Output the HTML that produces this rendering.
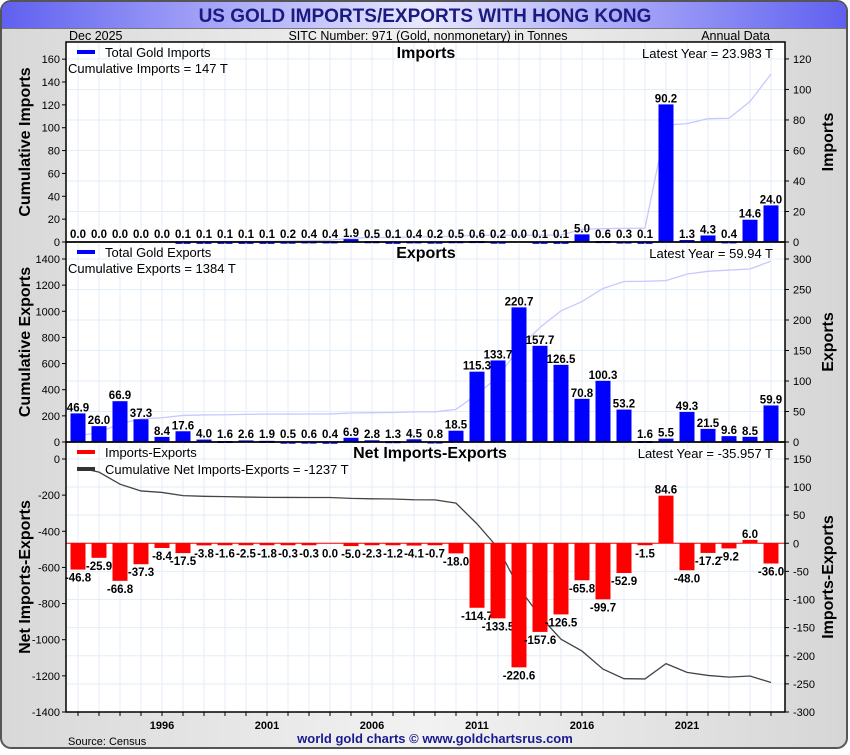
<!DOCTYPE html>
<html><head><meta charset="utf-8"><style>
body{margin:0;width:850px;height:750px;overflow:hidden;background:#fff;font-family:"Liberation Sans",sans-serif}
svg text{font-family:"Liberation Sans",sans-serif}
</style></head><body>
<svg id="c" width="850" height="750" xmlns="http://www.w3.org/2000/svg">
<defs>
<linearGradient id="bg" x1="0" x2="1" y1="0" y2="0"><stop offset="0" stop-color="#d8d8d8"/><stop offset="0.5" stop-color="#f2f2f2"/><stop offset="1" stop-color="#d6d6d6"/></linearGradient>
<linearGradient id="tb" x1="0" x2="1" y1="0" y2="0"><stop offset="0" stop-color="#6060f0"/><stop offset="0.5" stop-color="#e8e8ff"/><stop offset="1" stop-color="#6060f0"/></linearGradient>
</defs>
<rect x="1" y="1" width="846" height="747" rx="10" fill="url(#bg)" stroke="#555" stroke-width="2"/>
<path d="M11,2 H837 Q846,2 846,11 V28 H2 V11 Q2,2 11,2 Z" fill="url(#tb)"/>
<line x1="2" y1="28.5" x2="846" y2="28.5" stroke="#777"/>
<text x="425" y="22" text-anchor="middle" font-size="19" font-weight="bold" fill="#1a1a80">US GOLD IMPORTS/EXPORTS WITH HONG KONG</text>
<text x="69" y="40" font-size="12.5">Dec  2025</text>
<text x="428" y="40" text-anchor="middle" font-size="12.5">SITC Number: 971 (Gold, nonmonetary) in Tonnes</text>
<text x="770" y="40" text-anchor="end" font-size="12.5">Annual Data</text>
<rect x="66" y="42" width="719" height="670" fill="#fff"/>
<g id="g"></g>
<text x="68" y="745" font-size="11">Source: Census</text>
<text x="435" y="743" text-anchor="middle" font-size="13" font-weight="bold" fill="#1a1a90">world gold charts © www.goldchartsrus.com</text>
</svg>
<script>
const years=[1992,1993,1994,1995,1996,1997,1998,1999,2000,2001,2002,2003,2004,2005,2006,2007,2008,2009,2010,2011,2012,2013,2014,2015,2016,2017,2018,2019,2020,2021,2022,2023,2024,2025];
const imports=[0.0,0.0,0.0,0.0,0.0,0.1,0.1,0.1,0.1,0.1,0.2,0.4,0.4,1.9,0.5,0.1,0.4,0.2,0.5,0.6,0.2,0.0,0.1,0.1,5.0,0.6,0.3,0.1,90.2,1.3,4.3,0.4,14.6,24.0];
const exportsV=[46.9,26.0,66.9,37.3,8.4,17.6,4.0,1.6,2.6,1.9,0.5,0.6,0.4,6.9,2.8,1.3,4.5,0.8,18.5,115.3,133.7,220.7,157.7,126.5,70.8,100.3,53.2,1.6,5.5,49.3,21.5,9.6,8.5,59.9];
const net=[-46.8,-25.9,-66.8,-37.3,-8.4,-17.5,-3.8,-1.6,-2.5,-1.8,-0.3,-0.3,0.0,-5.0,-2.3,-1.2,-4.1,-0.7,-18.0,-114.7,-133.5,-220.6,-157.6,-126.5,-65.8,-99.7,-52.9,-1.5,84.6,-48.0,-17.2,-9.2,6.0,-36.0];
const impLeftTicks=[0,20,40,60,80,100,120,140,160];
const impRightTicks=[0,20,40,60,80,100,120];
const expLeftTicks=[0,200,400,600,800,1000,1200,1400];
const expRightTicks=[0,50,100,150,200,250,300];
const netLeftTicks=[0,-200,-400,-600,-800,-1000,-1200,-1400];
const netRightTicks=[150,100,50,0,-50,-100,-150,-200,-250,-300];
const xLabelYears=[1996,2001,2006,2011,2016,2021];

const NS="http://www.w3.org/2000/svg",G=document.getElementById('g');
function el(t,a,p){const e=document.createElementNS(NS,t);for(const k in a)e.setAttribute(k,a[k]);(p||G).appendChild(e);return e;}
function txt(s,a){const e=el('text',a);e.textContent=s;return e;}
const L=66,R=785;
const x=y=>78+(y-1992)*21;
function cum(a){let s=0;return a.map(v=>s+=v);}
const panels=[
 {top:42,bot:242,lmin:0,lmax:175,rmin:0,rmax:131.1,lt:impLeftTicks,rt:impRightTicks,grid:20,data:imports,color:'#0000ff',line:'#c8c8ff',cum:cum(imports),ltitle:'Cumulative Imports',rtitle:'Imports',title:'Imports',leg:'Total Gold Imports',cumt:'Cumulative Imports = 147 T',latest:'Latest Year = 23.983 T',n:'imports'},
 {top:242,bot:442,lmin:0,lmax:1530,rmin:0,rmax:327.9,lt:expLeftTicks,rt:expRightTicks,grid:50,data:exportsV,color:'#0000ff',line:'#c8c8ff',cum:cum(exportsV),ltitle:'Cumulative Exports',rtitle:'Exports',title:'Exports',leg:'Total Gold Exports',cumt:'Cumulative Exports = 1384 T',latest:'Latest Year = 59.94 T',n:'exports'},
 {top:442,bot:712,lmin:-1400,lmax:94,rmin:-300,rmax:180,lt:netLeftTicks,rt:netRightTicks,grid:50,data:net,color:'#ff0000',line:'#444',cum:cum(net),ltitle:'Net Imports-Exports',rtitle:'Imports-Exports',title:'Net Imports-Exports',leg:'Imports-Exports',cumt:'Cumulative Net Imports-Exports = -1237 T',latest:'Latest Year = -35.957 T',n:'net'}
];
panels.forEach(p=>{
 const yl=v=>p.bot-(v-p.lmin)/(p.lmax-p.lmin)*(p.bot-p.top);
 const yr=v=>p.bot-(v-p.rmin)/(p.rmax-p.rmin)*(p.bot-p.top);
 years.forEach(y=>{const g=el('line',{x1:x(y),x2:x(y),y1:p.top,y2:p.bot,stroke:'#e2eef8'});});
 for(let v=Math.ceil(p.rmin/p.grid)*p.grid;v<=p.rmax;v+=p.grid){const g=el('line',{x1:L,x2:R,y1:yr(v),y2:yr(v),stroke:'#e2eef8'});}
 const pts=years.map((y,i)=>x(y)+','+yl(p.cum[i])).join(' ');
 const pl=el('polyline',{points:pts,fill:'none',stroke:p.line,'stroke-width':1.3});
 
 const z=yr(0);
 const isNet=p.n=='net';
 years.forEach((y,i)=>{const v=p.data[i],yy=yr(v);
  const b=el('rect',{x:x(y)-7.5,y:Math.min(yy,z),width:15,height:Math.max(Math.abs(yy-z),v==0?0:2),fill:p.color});
  
  const below=isNet?v<=0:false;
  const ly=below?Math.max(yy,z+2)+12:Math.min(yy,z-2)-2;
  const t=txt(v.toFixed(1),{x:x(y),y:ly,'text-anchor':'middle','font-size':11.5,'font-weight':'bold'});
  
 });
 if(isNet){const zl=el('line',{x1:L,x2:R,y1:z,y2:z,stroke:'#ff0000','stroke-width':1});}
 p.lt.forEach(v=>{const t=txt(String(v),{x:60,y:yl(v)+4,'text-anchor':'end','font-size':11});
  const k=el('line',{x1:62,x2:66,y1:yl(v),y2:yl(v),stroke:'#000'});});
 p.rt.forEach(v=>{const t=txt(String(v),{x:793,y:yr(v)+4,'font-size':11});
  const k=el('line',{x1:785,x2:789,y1:yr(v),y2:yr(v),stroke:'#000'});});
 const my=(p.top+p.bot)/2;
 const lt=txt(p.ltitle,{x:0,y:0,transform:`translate(30,${my}) rotate(-90)`,'text-anchor':'middle','font-size':16,'font-weight':'bold'});
 const rt=txt(p.rtitle,{x:0,y:0,transform:`translate(833,${my}) rotate(-90)`,'text-anchor':'middle','font-size':16,'font-weight':'bold'});
 const ll=el('line',{x1:77,x2:95,y1:p.top+10,y2:p.top+10,stroke:p.color,'stroke-width':4});
 const lg=txt(p.leg,{x:105,y:p.top+15,'font-size':13});
 if(isNet){const l2=el('line',{x1:77,x2:95,y1:p.top+27,y2:p.top+27,stroke:'#333','stroke-width':4});
  const c=txt(p.cumt,{x:105,y:p.top+32,'font-size':13});}
 else{const c=txt(p.cumt,{x:68,y:p.top+31,'font-size':13});}
 const tt=txt(p.title,{x:isNet?430:426,y:p.top+16,'text-anchor':'middle','font-size':16,'font-weight':'bold'});
 const la=txt(p.latest,{x:773,y:p.top+16,'text-anchor':'end','font-size':13});
 const br=el('rect',{x:L,y:p.top,width:R-L,height:p.bot-p.top,fill:'none',stroke:'#000','stroke-width':1.5});
});
years.forEach(y=>{const k=el('line',{x1:x(y),x2:x(y),y1:712,y2:716,stroke:'#000'});});
xLabelYears.forEach(y=>{const t=txt(String(y),{x:x(y),y:729,'text-anchor':'middle','font-size':11,'font-weight':'bold'});});
</script>
</body></html>
